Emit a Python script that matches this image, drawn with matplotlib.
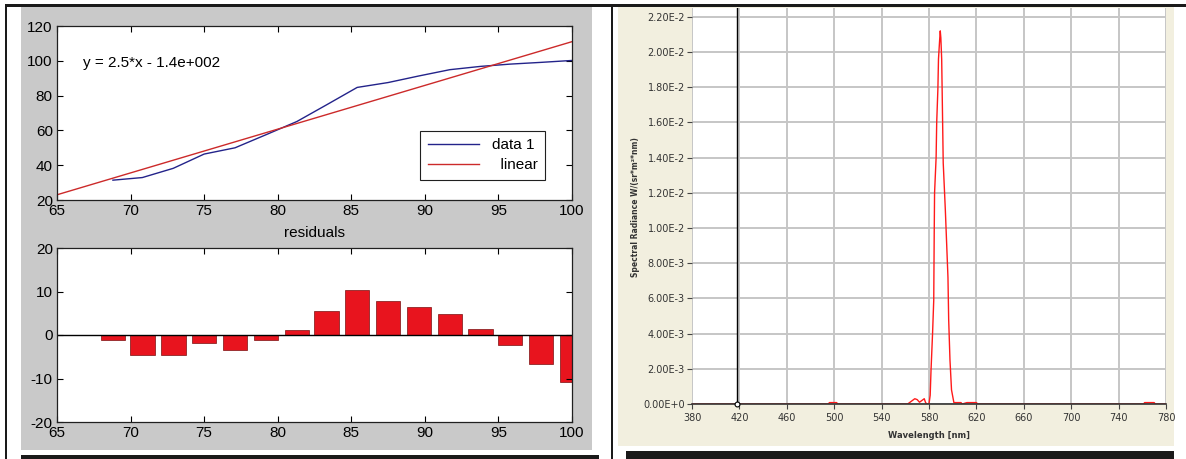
import matplotlib
matplotlib.use('Agg')
import matplotlib.pyplot as plt
from matplotlib.patches import Rectangle

plt.rcParams['axes.unicode_minus'] = False

# ---- left panel data (MATLAB basic fitting) ----
fit_x = [68.8, 70.8, 72.9, 75.0, 77.1, 79.2, 81.3, 83.3,
         85.4, 87.5, 89.6, 91.7, 93.8, 95.8, 97.9, 100.0]
data1_y = [31.4, 32.9, 38.2, 46.4, 50.0, 57.5, 65.1, 74.6,
           84.7, 87.5, 91.3, 94.9, 96.8, 98.1, 99.1, 100.2]
residuals = [-1.2, -4.7, -4.7, -1.8, -3.4, -1.2, 1.1, 5.6,
             10.4, 7.9, 6.4, 4.8, 1.4, -2.3, -6.6, -10.8]
linear_x = [65, 100]
linear_y = [23, 111]
left_xticks = [65, 70, 75, 80, 85, 90, 95, 100]
top_yticks = [20, 40, 60, 80, 100, 120]
res_yticks = [-20, -10, 0, 10, 20]

# ---- right panel data (spectrum) ----
spec_nm = [380, 495, 496, 502, 503, 562, 566, 568, 570, 572, 574, 576, 577,
           578, 580, 581, 581.7, 583, 584, 584.4, 584.7, 586, 586.5, 587.5,
           588, 589, 589.5, 590, 590.7, 591.3, 592, 593.8, 596, 596.6, 597.7,
           599, 601, 602, 607, 608, 612, 620, 621, 761, 762, 770, 771, 780]
spec_val = [0, 0, 0.00008, 0.00008, 0, 0, 0.0002, 0.0003, 0.00025, 0.0001,
            0.0002, 0.0003, 0.0001, 0, 0, 0.0005, 0.0019, 0.004, 0.0059,
            0.0097, 0.012, 0.014, 0.016, 0.0179, 0.0196, 0.0207, 0.0212,
            0.0208, 0.0196, 0.0169, 0.0137, 0.011, 0.0072, 0.0048, 0.0025,
            0.0008, 0.00008, 0.00008, 0.00008, 0, 0.00008, 0.00008, 0, 0,
            0.00008, 0.00008, 0, 0]
marker_nm = 418
spec_xticks = [380, 420, 460, 500, 540, 580, 620, 660, 700, 740, 780]
spec_yticks = [0, 0.002, 0.004, 0.006, 0.008, 0.010, 0.012, 0.014,
               0.016, 0.018, 0.020, 0.022]
spec_ylabels = ['0.00E+0', '2.00E-3', '4.00E-3', '6.00E-3', '8.00E-3',
                '1.00E-2', '1.20E-2', '1.40E-2', '1.60E-2', '1.80E-2',
                '2.00E-2', '2.20E-2']

W, H = 1186, 459
fig = plt.figure(figsize=(W / 100, H / 100), dpi=100)
fig.patch.set_facecolor('white')


def rect(x0, y0, x1, y1, color):
    fig.patches.append(Rectangle((x0 / W, 1 - y1 / H), (x1 - x0) / W, (y1 - y0) / H,
                                 transform=fig.transFigure, facecolor=color,
                                 edgecolor='none', zorder=-5))


def px_axes(x0, y0, x1, y1):
    return fig.add_axes([x0 / W, 1 - y1 / H, (x1 - x0) / W, (y1 - y0) / H])


# backgrounds and frame lines
rect(21, 7, 592, 450, '#c9c9c9')
rect(618, 7, 1174, 446, '#f2efdf')
rect(5, 4, 1186, 7, '#1a1a1a')
rect(5, 4, 7, 459, '#1a1a1a')
rect(611, 4, 613, 459, '#1a1a1a')
rect(21, 455, 599, 459, '#1a1a1a')
rect(626, 451, 1174, 459, '#1a1a1a')

mfont = 'Liberation Sans'


def matlab_style(ax):
    ax.set_facecolor('white')
    ax.tick_params(direction='in', top=True, right=True, length=4, width=0.8,
                   labelsize=11, pad=3)
    for lab in ax.get_xticklabels() + ax.get_yticklabels():
        lab.set_fontfamily(mfont)
    for s in ax.spines.values():
        s.set_linewidth(0.9)
        s.set_color('#202020')


# top: data + linear fit
ax1 = px_axes(57, 26, 572, 200)
ax1.plot(fit_x, data1_y, color='#23238a', lw=1, label='data 1')
ax1.plot(linear_x, linear_y, color='#cc2a2a', lw=1, label='  linear')
ax1.set_xlim(65, 100)
ax1.set_ylim(20, 120)
ax1.set_xticks(left_xticks)
ax1.set_yticks(top_yticks)
matlab_style(ax1)
ax1.text(66.8, 98.5, 'y = 2.5*x - 1.4e+002', fontsize=11, family=mfont, va='center')
leg = ax1.legend(loc='lower right', bbox_to_anchor=(0.948, 0.115), borderaxespad=0,
                 fancybox=False, edgecolor='#202020', framealpha=1, handlelength=3.4,
                 prop={'family': mfont, 'size': 11}, borderpad=0.5, labelspacing=0.4)
leg.get_frame().set_linewidth(0.8)

# bottom: residual bars
ax2 = px_axes(57, 248, 572, 422)
ax2.bar(fit_x, residuals, width=1.67, color='#e8141e', edgecolor='#7a1010', lw=0.5)
ax2.axhline(0, color='black', lw=1)
ax2.set_xlim(65, 100)
ax2.set_ylim(-20, 20)
ax2.set_xticks(left_xticks)
ax2.set_yticks(res_yticks)
matlab_style(ax2)
ax2.set_title('residuals', fontsize=11, family=mfont, pad=8)

# right: spectrum
ax3 = px_axes(692, 8, 1166, 404)
ax3.set_facecolor('white')
ax3.plot(spec_nm, spec_val, color='#ff1a1a', lw=1, zorder=2)
ax3.axvline(marker_nm, color='black', lw=1, zorder=3)
ax3.plot([marker_nm], [0], 'o', ms=3.5, mfc='white', mec='black', mew=0.8, zorder=4,
         clip_on=False)
ax3.set_xlim(380, 780)
ax3.set_ylim(0, 0.0225)
ax3.set_xticks(spec_xticks)
ax3.set_yticks(spec_yticks)
ax3.set_yticklabels(spec_ylabels)
ax3.grid(True, color='#c6c6c6', lw=1.4, zorder=1)
ax3.set_axisbelow(True)
for side in ['top', 'right', 'left']:
    ax3.spines[side].set_visible(False)
ax3.spines['bottom'].set_color('#333333')
ax3.spines['bottom'].set_linewidth(1.2)
ax3.spines['bottom'].set_zorder(2.5)
ax3.tick_params(direction='out', length=3.6, width=0.8, color='#444444',
                labelsize=7, labelcolor='#333333', pad=1.5)
ax3.tick_params(axis='x', pad=3)

fig.text(929 / W, 1 - 436 / H, 'Wavelength [nm]', fontsize=6, fontweight='bold',
         color='#333333', ha='center', va='center')
fig.text(636 / W, 1 - 207 / H, 'Spectral Radiance W/(sr*m\u00b2*nm)', fontsize=5.5,
         fontweight='bold', color='#333333', ha='center', va='center', rotation=90)

fig.savefig('out.png', dpi=100)
